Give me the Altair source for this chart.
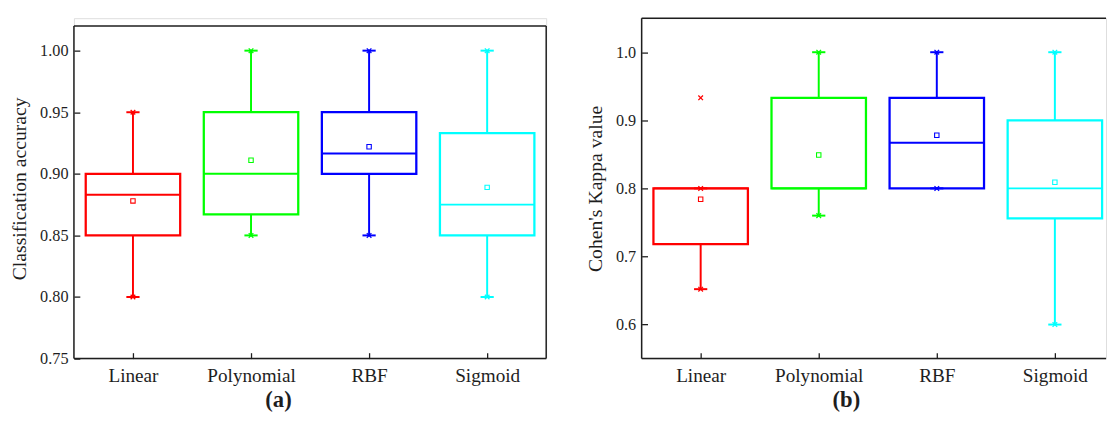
import json
import altair as alt
import pandas as pd

categories = ["Linear", "Polynomial", "RBF", "Sigmoid"]
colors = ["#FF0000", "#00FF00", "#0000FF", "#00FFFF"]

# Panel (a): classification accuracy
acc_min = [0.80, 0.85, 0.85, 0.80]
acc_q1 = [0.85, 0.867, 0.90, 0.85]
acc_med = [0.883, 0.90, 0.9165, 0.875]
acc_q3 = [0.90, 0.95, 0.95, 0.933]
acc_max = [0.95, 1.00, 1.00, 1.00]
acc_mean = [0.878, 0.911, 0.922, 0.889]
acc_outliers = []  # (category index, value)
acc_ticks = [0.75, 0.80, 0.85, 0.90, 0.95, 1.00]

# Panel (b): Cohen's Kappa
kap_min = [0.652, 0.76, 0.80, 0.60]
kap_q1 = [0.718, 0.80, 0.80, 0.756]
kap_med = [0.80, 0.80, 0.867, 0.80]
kap_q3 = [0.80, 0.933, 0.933, 0.90]
kap_max = [0.80, 1.00, 1.00, 1.00]
kap_mean = [0.784, 0.849, 0.878, 0.809]
kap_outliers = [(0, 0.933)]
kap_ticks = [0.6, 0.7, 0.8, 0.9, 1.0]

FONT = "Liberation Serif"
INK = "#1e1e1e"
H = 346
BOX_HALF = 0.4
CAP_HALF = 0.056


def panel(mins, q1, med, q3, maxs, means, outliers, ticks, fmt, ydom, frame_top,
          width, xmax, ytitle, label, right_border):
    df = pd.DataFrame({
        "idx": list(range(len(categories))), "cat": categories,
        "mn": mins, "q1": q1, "med": med, "q3": q3, "mx": maxs, "mean": means,
    })
    xs = alt.Scale(domain=[-0.5, xmax], nice=False, zero=False)
    ys = alt.Scale(domain=ydom, nice=False, zero=False)
    label_expr = json.dumps(categories) + "[datum.value]"
    xaxis = alt.Axis(values=list(range(len(categories))), labelExpr=label_expr,
                     title=None, grid=False, domain=False, offset=-6, tickSize=6,
                     tickWidth=1.3, tickColor=INK, labelFont=FONT, labelFontSize=19.5,
                     labelColor=INK, labelPadding=8)
    yaxis = alt.Axis(values=ticks, format=fmt, title=ytitle, grid=False, domain=False,
                     offset=-6, tickSize=6, tickWidth=1.3, tickColor=INK,
                     labelFont=FONT, labelFontSize=16.5, labelColor=INK, labelPadding=6,
                     titleFont=FONT, titleFontSize=20, titleFontWeight="normal",
                     titleColor=INK, titlePadding=10)

    def X(f):
        return alt.X(f, type="quantitative", scale=xs, axis=xaxis)

    def Y(f):
        return alt.Y(f, type="quantitative", scale=ys, axis=yaxis)

    col = alt.Color("cat:N", scale=alt.Scale(domain=categories, range=colors), legend=None)
    stk = alt.Stroke("cat:N", scale=alt.Scale(domain=categories, range=colors), legend=None)

    base = alt.Chart(df).transform_calculate(
        lo=f"datum.idx - {BOX_HALF}", hi=f"datum.idx + {BOX_HALF}",
        cl=f"datum.idx - {CAP_HALF}", cr=f"datum.idx + {CAP_HALF}")

    whisk_hi = base.mark_rule(strokeWidth=2).encode(x=X("idx"), y=Y("q3"), y2="mx", color=col)
    whisk_lo = base.mark_rule(strokeWidth=2).encode(x=X("idx"), y=Y("q1"), y2="mn", color=col)
    cap_hi = base.mark_rule(strokeWidth=2).encode(x=X("cl"), x2="cr", y=Y("mx"), color=col)
    cap_lo = base.mark_rule(strokeWidth=2).encode(x=X("cl"), x2="cr", y=Y("mn"), color=col)
    box = base.mark_rect(fillOpacity=0, strokeWidth=2.3).encode(
        x=X("lo"), x2="hi", y=Y("q1"), y2="q3", stroke=stk)
    median = base.mark_rule(strokeWidth=2).encode(x=X("lo"), x2="hi", y=Y("med"), color=col)
    xshape = "M-1,-1L1,1M-1,1L1,-1"
    ends = alt.Chart(pd.DataFrame({
        "idx": list(range(len(categories))) * 2, "cat": categories * 2,
        "v": list(mins) + list(maxs)})).mark_point(
        shape=xshape, filled=False, size=22, strokeWidth=1.3, opacity=1).encode(
        x=X("idx"), y=Y("v"), color=col)
    mean_pt = base.mark_point(shape="square", filled=False, size=20, strokeWidth=1.1,
                              opacity=1).encode(x=X("idx"), y=Y("mean"), color=col)
    layers = [whisk_hi, whisk_lo, cap_hi, cap_lo, box, median, ends, mean_pt]
    if outliers:
        odf = pd.DataFrame({"idx": [o[0] for o in outliers],
                            "cat": [categories[o[0]] for o in outliers],
                            "v": [o[1] for o in outliers]})
        layers.append(alt.Chart(odf).mark_point(
            shape=xshape, filled=False, size=22, strokeWidth=1.3, opacity=1).encode(
            x=X("idx"), y=Y("v"), color=col))

    # frame
    fx0 = [-0.5, -0.5, -0.5]
    fx1 = [-0.5, xmax, xmax]
    fy0 = [ydom[0], ydom[0], frame_top]
    fy1 = [frame_top, ydom[0], frame_top]
    if right_border:
        fx0.append(xmax); fx1.append(xmax); fy0.append(ydom[0]); fy1.append(frame_top)
    fdf = pd.DataFrame({"x0": fx0, "x1": fx1, "y0": fy0, "y1": fy1})
    frame = alt.Chart(fdf).mark_rule(color=INK, strokeWidth=1.5).encode(
        x=X("x0"), x2="x1", y=Y("y0"), y2="y1")
    layers.append(frame)

    return alt.layer(*layers).properties(
        width=width, height=H,
        title=alt.TitleParams(label, orient="bottom", anchor="middle", frame="bounds",
                              font=FONT, fontSize=23, fontWeight="bold", color=INK,
                              offset=5))


left = panel(acc_min, acc_q1, acc_med, acc_q3, acc_max, acc_mean, acc_outliers,
             acc_ticks, ".2f", [0.75, 0.75 + H / 1252.0], 1.02, 480, 3.5,
             "Classification accuracy", "(a)", True)
right = panel(kap_min, kap_q1, kap_med, kap_q3, kap_max, kap_mean, kap_outliers,
              kap_ticks, ".1f", [0.55, 1.05], 1.05, 472, 3.5 - 8 / 120.0,
              "Cohen's Kappa value", "(b)", False)

chart = alt.hconcat(left, right, spacing=37).properties(
    padding={"left": 1, "top": 5, "right": 0, "bottom": 0}
).configure_view(stroke=None).configure(background="white")

chart.save("out.html", embed_options={"renderer": "svg", "actions": False})
